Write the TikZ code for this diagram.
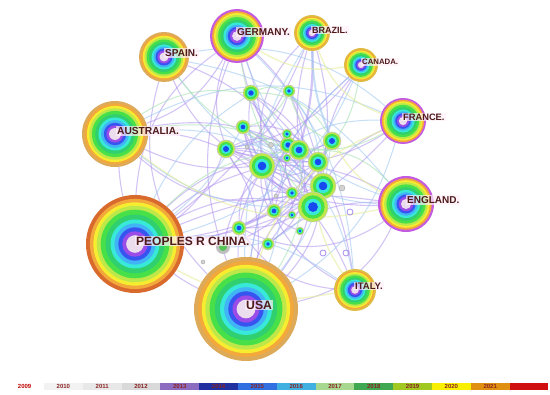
\documentclass[tikz,border=0pt]{standalone}
\usepackage{fontspec}
\setmainfont{Liberation Sans}
\usetikzlibrary{positioning}
\definecolor{labelink}{HTML}{4E1A1A}
\definecolor{rimred}{HTML}{D86A2E}
\definecolor{rimtan}{HTML}{DDAA5A}
\definecolor{rimmag}{HTML}{C45AE0}
\definecolor{rimgold}{HTML}{DDBF45}
\definecolor{ringorange}{HTML}{F2A83A}
\definecolor{ringyellow}{HTML}{F6EC30}
\definecolor{ringlime}{HTML}{BEE84A}
\definecolor{ringgreen}{HTML}{48E048}
\definecolor{ringgreentwo}{HTML}{30D070}
\definecolor{ringcyan}{HTML}{38E8D8}
\definecolor{ringsky}{HTML}{40B4F4}
\definecolor{ringblue}{HTML}{3854F0}
\definecolor{ringpurple}{HTML}{9A4CE8}
\definecolor{ringpale}{HTML}{EBDDEE}
\definecolor{smallblue}{HTML}{1848F0}
\definecolor{linkpurple}{HTML}{A98BEE}
\definecolor{linkblue}{HTML}{98C4F0}
\definecolor{linkgreen}{HTML}{A6E2AE}
\definecolor{linkyellow}{HTML}{E6EE9A}
\definecolor{yrtext}{HTML}{8B2323}
\definecolor{yrpurple}{HTML}{8C6CC0}
\definecolor{yrnavy}{HTML}{2030A0}
\definecolor{yrblue}{HTML}{3070E0}
\definecolor{yrsky}{HTML}{40B0E0}
\definecolor{yrmint}{HTML}{A8D890}
\definecolor{yrgreen}{HTML}{40A850}
\definecolor{yrlime}{HTML}{A0C820}
\definecolor{yryellow}{HTML}{F8F000}
\definecolor{yrorange}{HTML}{E09010}
\definecolor{yrred}{HTML}{D01010}

% rings of a country node: node, radius, rim colour
\newcommand\hubrings[3]{%
  \foreach \f/\c in {1/#3, .92/ringorange, .85/ringyellow, .78/ringlime,
      .70/ringgreen, .60/ringgreentwo, .50/ringcyan, .42/ringsky,
      .34/ringblue, .26/ringpurple, .18/ringpale}
    {\fill[\c] (#1.center) circle[radius=\f*#2];}}
% rings of a small node: node, radius
\newcommand\minorrings[2]{%
  \foreach \f/\c in {1/ringlime, .78/ringgreen, .55/ringcyan, .33/smallblue}
    {\fill[\c] (#1.center) circle[radius=\f*#2];}
  \draw[gray!45, line width=.5pt] (#1.center) circle[radius=#2];}

\begin{document}
\begin{tikzpicture}[
  x=1pt, y=-1pt,
  hubspot/.style={circle, inner sep=0pt, minimum size=#1},
  hublabel/.style={anchor=west, text=labelink, inner sep=1pt,
    fill=magenta!6, fill opacity=.7, text opacity=1},
  linkp/.style={draw=linkpurple, line width=1.1pt, opacity=.5},
  linkb/.style={draw=linkblue, line width=1pt, opacity=.55},
  linkg/.style={draw=linkgreen, line width=1pt, opacity=.6},
  linky/.style={draw=linkyellow, line width=1.3pt, opacity=.6},
  dotnode/.style={circle, inner sep=0pt, minimum size=#1, draw=gray!70, fill=gray!35},
  ringdot/.style={circle, inner sep=0pt, minimum size=#1, draw=linkpurple, line width=.8pt},
  yrcell/.style={anchor=west, minimum width=38.8pt, minimum height=7pt,
    inner sep=0pt, font=\fontsize{6}{6}\selectfont\bfseries}
]
  \useasboundingbox[fill=white] (0,0) rectangle (550,395);

  % --- country nodes ---
  \node[hubspot=98]  (china)     at (135,244) {};
  \node[hubspot=104] (usa)       at (246,309) {};
  \node[hubspot=66]  (australia) at (115,134) {};
  \node[hubspot=50]  (spain)     at (164,57)  {};
  \node[hubspot=54]  (germany)   at (237,36)  {};
  \node[hubspot=36]  (brazil)    at (312,33)  {};
  \node[hubspot=34]  (canada)    at (361,65)  {};
  \node[hubspot=46]  (france)    at (403,121) {};
  \node[hubspot=56]  (england)   at (406,204) {};
  \node[hubspot=42]  (italy)     at (355,290) {};

  % --- small nodes in the middle ---
  \foreach \n/\x/\y/\r in {n1/251/93/8, n2/289/91/6, n3/243/127/7, n4/226/149/9,
      n5/262/166/13, n6/288/145/8, n7/299/150/10, n8/287/134/5, n9/287/158/4,
      n10/332/141/9, n11/318/162/10, n12/323/186/13, n13/313/207/15,
      n14/292/193/6, n15/274/211/7, n16/292/215/4, n17/300/231/4,
      n18/268/244/6, n19/239/228/7, n20/223/247/7}
    \node[hubspot=2*\r] (\n) at (\x,\y) {};

  % --- links ---
  \foreach \a/\b/\bd in {china/n5/10, china/n4/-15, china/n13/20, china/n10/-25,
      china/germany/25, china/france/-20, china/england/15, china/n12/-10,
      usa/n5/15, usa/n13/-10, usa/n12/20, usa/england/-25, usa/germany/20,
      usa/n4/-20, usa/australia/30, australia/n5/-15, australia/n11/20,
      australia/n4/10, spain/n5/-20, spain/n13/25, germany/n5/10, germany/n12/-20,
      germany/n11/15, brazil/n5/-25, brazil/n13/15, brazil/n7/-10, canada/n4/20,
      canada/n12/-15, france/n4/25, france/n13/-20, england/n4/20, england/n5/-15,
      italy/n5/25, italy/n4/-20, n4/n12/15, n3/n13/-25, n1/n12/20, n5/n11/-30,
      n4/n13/35, n19/n10/-20, n20/n7/25, n3/n11/30, n1/n13/-35, n15/n6/20,
      australia/germany/-20, spain/usa/-30, china/brazil/-15, canada/usa/-20,
      n18/n2/-30, n14/n3/25, italy/n1/-20, england/n19/30,
      n4/n10/-20, n4/n7/25, n3/n12/-30, n5/n13/25, n19/n12/-25, n19/n6/30,
      n20/n11/-20, n15/n10/25, n18/n7/-35, n14/n4/30, n16/n3/-30, n17/n5/35,
      n1/n11/-25, n2/n4/30, n9/n19/25, n6/n13/-30, china/n11/25, usa/n11/-25,
      australia/n12/-30, germany/n4/-20, england/n18/-20, italy/n19/25}
    \draw[linkp] (\a) to[bend left=\bd] (\b);
  \foreach \a/\b/\bd in {china/n1/15, china/n3/-10, usa/n1/-25, usa/canada/20,
      usa/n10/-15, australia/n12/20, australia/france/25, spain/n12/-15,
      spain/england/20, germany/england/-25, germany/italy/20, brazil/usa/-15,
      canada/china/25, france/usa/20, france/n5/-20, england/n3/25, italy/n3/-25,
      italy/china/-20, n2/n13/25, n8/n15/-30, australia/n13/-20, spain/france/25,
      n4/n11/20, n3/n7/-25, n12/n20/30}
    \draw[linkb] (\a) to[bend left=\bd] (\b);
  \draw[linkp, line width=2.2pt] (brazil) to[bend left=8] (n7);
  \draw[linkb, line width=2pt] (brazil) to[bend right=10] (n10);
  \foreach \a/\b/\bd in {china/n7/20, usa/n7/-20, australia/n7/15, germany/n13/-15,
      n1/n2/20, n2/n10/-25, france/n6/20, england/n7/-25, canada/n11/15,
      spain/n7/-20, n1/n10/30, n3/n2/-25, australia/n1/20}
    \draw[linkg] (\a) to[bend left=\bd] (\b);
  \foreach \a/\b/\bd in {usa/france/25, china/italy/-20, australia/england/-25,
      england/n10/15, germany/canada/-20, italy/n11/20, brazil/france/-25}
    \draw[linky] (\a) to[bend left=\bd] (\b);

  % --- small dots ---
  \node[dotnode=5] (d1) at (271,145) {};
  \node[dotnode=4] (d2) at (247,147) {};
  \node[dotnode=4] (d3) at (276,196) {};
  \node[dotnode=6] (d4) at (342,188) {};
  \node[dotnode=4] (d5) at (203,262) {};
  \node[ringdot=6] (d6) at (323,253) {};
  \node[ringdot=6] (d7) at (346,253) {};
  \node[ringdot=6] (d8) at (350,212) {};

  % --- rings ---
  \hubrings{china}{49}{rimred}
  \hubrings{usa}{52}{rimtan}
  \hubrings{australia}{33}{rimtan}
  \hubrings{spain}{25}{rimtan}
  \hubrings{germany}{27}{rimmag}
  \hubrings{brazil}{18}{rimgold}
  \hubrings{canada}{17}{rimgold}
  \hubrings{france}{23}{rimmag}
  \hubrings{england}{28}{rimmag}
  \hubrings{italy}{21}{rimgold}
  \foreach \n/\r in {n1/8, n2/6, n3/7, n4/9, n5/13, n6/8, n7/10, n8/5, n9/4,
      n10/9, n11/10, n12/13, n13/15, n14/6, n15/7, n16/4, n17/4, n18/6, n19/7}
    {\minorrings{\n}{\r}}
  \fill[gray!50] (n20.center) circle[radius=7];
  \fill[ringgreen!70!gray] (n20.center) circle[radius=4];

  % --- country labels ---
  \node[hublabel, font=\fontsize{12}{14}\selectfont\bfseries]   (chinalbl)     at (135,241) {PEOPLES R CHINA.};
  \node[hublabel, font=\fontsize{12.2}{14}\selectfont\bfseries] (usalbl)       at (245,305) {USA};
  \node[hublabel, font=\fontsize{10.2}{12}\selectfont\bfseries] (australialbl) at (116,131) {AUSTRALIA.};
  \node[hublabel, font=\fontsize{10}{12}\selectfont\bfseries]   (spainlbl)     at (164,53)  {SPAIN.};
  \node[hublabel, font=\fontsize{10}{12}\selectfont\bfseries]   (germanylbl)   at (236,32)  {GERMANY.};
  \node[hublabel, font=\fontsize{9}{11}\selectfont\bfseries]    (brazillbl)    at (311,30)  {BRAZIL.};
  \node[hublabel, font=\fontsize{7.8}{10}\selectfont\bfseries]  (canadalbl)    at (361,62)  {CANADA.};
  \node[hublabel, font=\fontsize{9.3}{11}\selectfont\bfseries]  (francelbl)    at (402,117) {FRANCE.};
  \node[hublabel, font=\fontsize{10}{12}\selectfont\bfseries]   (englandlbl)   at (406,200) {ENGLAND.};
  \node[hublabel, font=\fontsize{9.5}{11}\selectfont\bfseries]  (italylbl)     at (354,286) {ITALY.};

  % --- year legend ---
  \foreach \yr/\col/\tc [count=\i from 0] in {2009/white/red!75!black,
      2010/gray!10/yrtext, 2011/gray!18/yrtext, 2012/gray!30/yrtext,
      2013/yrpurple/yrtext, 2014/yrnavy/yrtext, 2015/yrblue/yrtext,
      2016/yrsky/yrtext, 2017/yrmint/yrtext, 2018/yrgreen/yrtext,
      2019/yrlime/yrtext, 2020/yryellow/yrtext, 2021/yrorange/yrtext,
      {}/yrred/yrtext}
    \node[yrcell, fill=\col, text=\tc] (yr\i) at (5+38.8*\i,386.5) {\yr};
\end{tikzpicture}
\end{document}
